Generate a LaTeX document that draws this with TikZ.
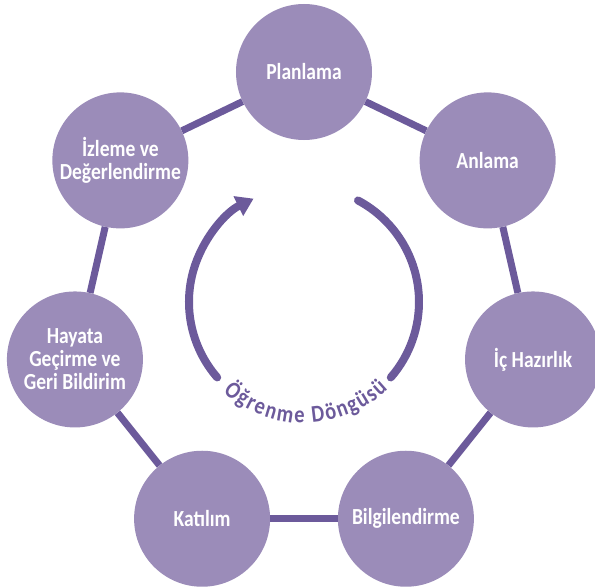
\documentclass[tikz,border=0pt]{standalone}
\usepackage{fontspec}
\setmainfont{Carlito}[FakeStretch=0.85]
\usetikzlibrary{arrows.meta,decorations.text}
\definecolor{lila}{RGB}{155,140,185}
\definecolor{mor}{RGB}{108,90,155}
\begin{document}
\begin{tikzpicture}[x=1pt,y=1pt,
        adim/.style={circle,fill=lila,minimum size=136pt,inner sep=0pt,align=center,
            text=white,font=\fontsize{23}{23}\selectfont\bfseries},
        bag/.style={draw=mor,line width=7pt},
        dongu/.style={draw=mor,line width=8pt,line cap=round}]
            \useasboundingbox (-304,-280) rectangle (291,307);

            \node[adim] (plan) at (90:235) {Planlama};
            \node[adim] (anla) at (38.6:235) {Anlama};
            \node[adim] (hazir) at (-12.9:235) {İç Hazırlık};
            \node[adim] (bilgi) at (-64.3:235) {Bilgilendirme};
            \node[adim] (katil) at (-115.7:235) {Katılım};
            \node[adim] (hayata) at (-167.1:235) {Hayata\\Geçirme ve\\Geri Bildirim};
            \node[adim] (izleme) at (141.4:235) {İzleme ve\\Değerlendirme};

            \path (plan) edge[bag] (anla);
            \path (anla) edge[bag] (hazir);
            \path (hazir) edge[bag] (bilgi);
            \path (bilgi) edge[bag] (katil);
            \path (katil) edge[bag] (hayata);
            \path (hayata) edge[bag] (izleme);
            \path (izleme) edge[bag] (plan);

            \coordinate (mid) at (0,5);
            \draw[dongu,-{Triangle[width=21pt,length=17pt]}] (mid) ++(221:115)
                arc[start angle=221,end angle=116,radius=115];
            \draw[dongu] (mid) ++(62:115) arc[start angle=62,end angle=-41,radius=115];
            \path[decorate,
                decoration={text along path,text align={fit to path},text color=mor,
                text={|\fontsize{24}{24}\selectfont\bfseries|Öğrenme Döngüsü}}]
                (mid) ++(-132:121) arc[start angle=-132,end angle=-46,radius=121];

        \end{tikzpicture}
\end{document}
